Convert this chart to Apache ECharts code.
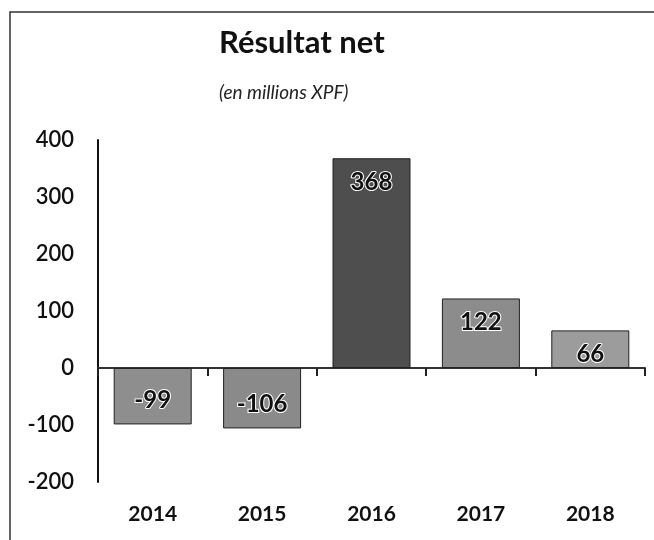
<!DOCTYPE html>
<html>
<head>
<meta charset="utf-8">
<script src="https://cdn.jsdelivr.net/npm/echarts@6/dist/echarts.min.js"></script>
<style>
  html, body { margin: 0; padding: 0; background: #fff; }
  #chart { width: 654px; height: 540px; }
</style>
</head>
<body>
<div id="chart"></div>
<script>
// données
const years = ['2014', '2015', '2016', '2017', '2018'];
const resultatNet = [-99, -106, 368, 122, 66];
const barColors = ['#8e8e8e', '#8a8a8a', '#4e4e4e', '#8c8c8c', '#9c9c9c'];

const chart = echarts.init(document.getElementById('chart'));
const font = 'Lato, "Open Sans", sans-serif';

const option = {
    backgroundColor: '#fff',
    animation: false,
    title: [
        {
            text: 'Résultat net',
            left: 214,
            top: 22,
            textStyle: { fontFamily: font, fontSize: 31, fontWeight: 'bold', color: '#111' }
        },
        {
            text: '(en millions XPF)',
            left: 214,
            top: 78,
            textStyle: { fontFamily: font, fontSize: 19, fontStyle: 'italic', fontWeight: 'normal', color: '#222' }
        }
    ],
    // cadre du graphique (scan)
    graphic: [{
        type: 'rect',
        shape: { x: 10, y: 12, width: 700, height: 600 },
        style: { fill: 'none', stroke: '#333', lineWidth: 1.5 }
    }],
    grid: { left: 98, right: 9, top: 140, bottom: 58 },
    xAxis: [
        {
            type: 'category',
            data: years,
            axisLine: { onZero: true, lineStyle: { color: '#333', width: 2 } },
            axisTick: { show: true, length: 8, lineStyle: { color: '#222', width: 2 } },
            axisLabel: { show: false }
        },
        {
            type: 'category',
            data: years,
            position: 'bottom',
            axisLine: { show: false },
            axisTick: { show: false },
            axisLabel: { margin: 22, fontFamily: font, fontSize: 21, fontWeight: 'bold', color: '#111' }
        }
    ],
    yAxis: {
        type: 'value',
        min: -200,
        max: 400,
        interval: 100,
        splitLine: { show: false },
        axisLine: { show: true, lineStyle: { color: '#111', width: 2 } },
        axisTick: { show: false },
        axisLabel: { margin: 24, fontFamily: font, fontSize: 22, fontWeight: 600, color: '#111' }
    },
    series: [{
        type: 'bar',
        xAxisIndex: 0,
        barWidth: 78,
        data: resultatNet.map((v, i) => ({
            value: v,
            itemStyle: { color: barColors[i], borderColor: '#222', borderWidth: 1 },
            label: { position: v < 0 ? 'insideBottom' : 'insideTop' }
        })),
        label: {
            show: true,
            distance: 12,
            fontFamily: font,
            fontSize: 24,
            fontWeight: 'bold',
            color: '#111',
            textBorderColor: '#fff',
            textBorderWidth: 2
        }
    }]
};

chart.setOption(option);
window.addEventListener('resize', () => chart.resize());
</script>
</body>
</html>
